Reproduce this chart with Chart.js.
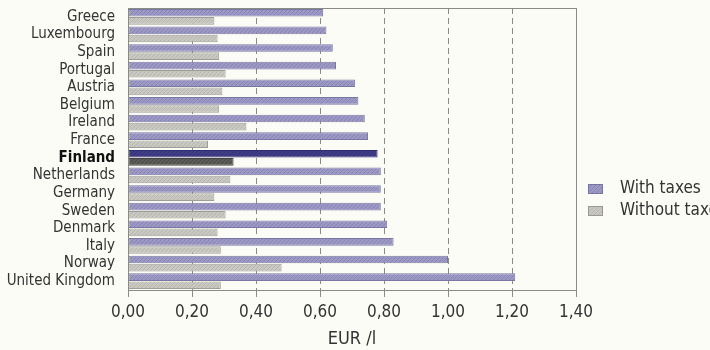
<!DOCTYPE html>
<html>
<head>
<meta charset="utf-8">
<script src="https://cdn.jsdelivr.net/npm/chart.js@4"></script>
<style>
  html, body { margin: 0; padding: 0; background: #fcfcf6; }
  .container { width: 710px; height: 350px; }
</style>
</head>
<body>
<div class="container">
  <canvas id="myChart" width="710" height="350"></canvas>
</div>
<script>
const countries = ['Greece', 'Luxembourg', 'Spain', 'Portugal', 'Austria', 'Belgium', 'Ireland', 'France',
  'Finland', 'Netherlands', 'Germany', 'Sweden', 'Denmark', 'Italy', 'Norway', 'United Kingdom'];
const withTaxes = [0.61, 0.62, 0.64, 0.65, 0.71, 0.72, 0.74, 0.75, 0.78, 0.79, 0.79, 0.79, 0.81, 0.83, 1.00, 1.21];
const withoutTaxes = [0.27, 0.28, 0.285, 0.305, 0.295, 0.285, 0.37, 0.25, 0.33, 0.32, 0.27, 0.305, 0.28, 0.29, 0.48, 0.29];
const tickValues = [0, 0.2, 0.4, 0.6, 0.8, 1.0, 1.2, 1.4];
const highlight = 'Finland';

const FONT = "'Liberation Sans Narrow', 'DejaVu Sans Condensed', sans-serif";

// fine crosshatch texture like the printed bars
function hatch(base, dark) {
  const c = document.createElement('canvas');
  c.width = 4; c.height = 4;
  const g = c.getContext('2d');
  g.fillStyle = base;
  g.fillRect(0, 0, 4, 4);
  g.fillStyle = dark;
  g.fillRect(0, 0, 1, 1);
  g.fillRect(2, 2, 1, 1);
  g.fillRect(1, 3, 1, 1);
  g.fillRect(3, 1, 1, 1);
  return g.createPattern(c, 'repeat');
}

const ctx = document.getElementById('myChart');
const purple = hatch('#9b98c4', '#8986b6');
const grey = hatch('#c8c8c0', '#b8b8b0');
const navy = hatch('#403d85', '#35327a');
const darkGrey = hatch('#5a5a56', '#4c4c48');

const isHi = (i) => countries[i] === highlight;

const frame = {
  id: 'frame',
  afterDatasetsDraw(chart) {
    const a = chart.chartArea, c = chart.ctx;
    c.save();
    c.strokeStyle = '#8a8a86';
    c.lineWidth = 1;
    c.strokeRect(a.left + 0.5, a.top + 0.5, a.right - a.left, a.bottom - a.top);
    c.restore();
  }
};

const sideLegend = {
  id: 'sideLegend',
  afterDraw(chart) {
    const c = chart.ctx;
    const items = [
      { label: chart.data.datasets[0].label, fill: purple, border: '#77759f', y: 189 },
      { label: chart.data.datasets[1].label, fill: grey, border: '#999993', y: 211 }
    ];
    c.save();
    items.forEach(it => {
      c.fillStyle = it.fill;
      c.fillRect(588, it.y - 5, 15, 10);
      c.strokeStyle = it.border;
      c.strokeRect(588.5, it.y - 4.5, 14, 9);
      c.fillStyle = '#333';
      c.font = '17px ' + FONT;
      c.textBaseline = 'middle';
      c.fillText(it.label, 620, it.y);
    });
    c.restore();
  }
};

new Chart(ctx, {
  type: 'bar',
  data: {
    labels: countries,
    datasets: [{
      label: 'With taxes',
      data: withTaxes,
      backgroundColor: countries.map((_, i) => isHi(i) ? navy : purple),
      borderColor: countries.map((_, i) => isHi(i) ? '#2e2b6e' : '#7a77a4'),
      borderWidth: 1,
      borderSkipped: false,
      categoryPercentage: 0.92,
      barPercentage: 0.95
    }, {
      label: 'Without taxes',
      data: withoutTaxes,
      backgroundColor: countries.map((_, i) => isHi(i) ? darkGrey : grey),
      borderColor: countries.map((_, i) => isHi(i) ? '#444' : '#9e9e98'),
      borderWidth: 1,
      borderSkipped: false,
      categoryPercentage: 0.92,
      barPercentage: 0.95
    }]
  },
  options: {
    indexAxis: 'y',
    responsive: false,
    animation: false,
    layout: { padding: { top: 8, right: 134, left: 0, bottom: 0 } },
    plugins: {
      legend: { display: false },
      tooltip: { enabled: false }
    },
    scales: {
      x: {
        min: 0,
        max: 1.4,
        afterBuildTicks: (scale) => { scale.ticks = tickValues.map(v => ({ value: v })); },
        afterFit: (scale) => { scale.height = 60; scale.paddingLeft = 0; scale.paddingRight = 0; },
        ticks: {
          color: '#333',
          font: { family: FONT, size: 17 },
          padding: 5,
          callback: (v) => Number(v).toFixed(2).replace('.', ',')
        },
        grid: {
          color: (c) => (c.tick && (c.tick.value === 0 || c.tick.value === 1.4)) ? 'rgba(0,0,0,0)' : '#8a8a86',
          tickColor: '#8a8a86',
          tickLength: 7,
          tickBorderDash: [],
          lineWidth: 1
        },
        border: { display: false, dash: [6, 4] },
        title: {
          display: true,
          text: 'EUR /l',
          color: '#333',
          font: { family: FONT, size: 18 },
          padding: { top: 0, bottom: 0 }
        }
      },
      y: {
        afterFit: (scale) => { scale.width = 128; scale.paddingTop = 0; scale.paddingBottom = 0; },
        grid: { display: false },
        border: { display: false },
        ticks: {
          color: (c) => isHi(c.index) ? '#111' : '#333',
          font: (c) => ({ family: FONT, size: 15, weight: isHi(c.index) ? 'bold' : 'normal' }),
          padding: 5,
          autoSkip: false
        }
      }
    }
  },
  plugins: [frame, sideLegend]
});
</script>
</body>
</html>
